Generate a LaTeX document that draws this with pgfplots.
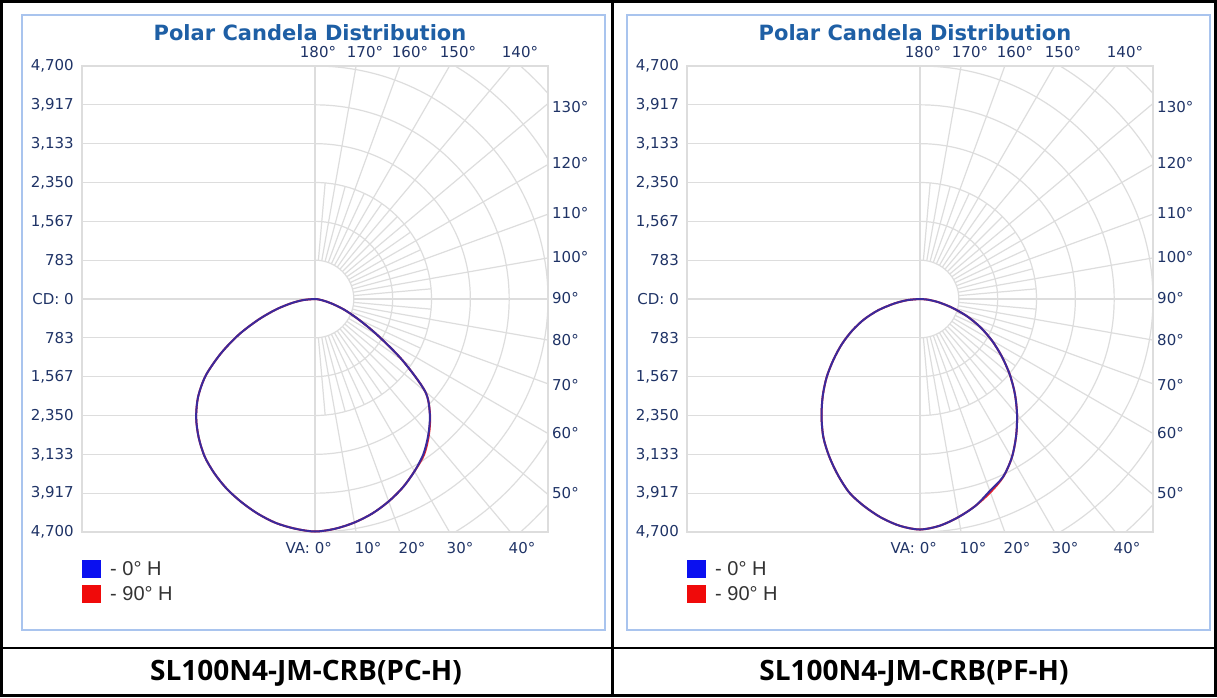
\documentclass[border=0pt]{standalone}
\usepackage{pgfplots}
\pgfplotsset{compat=1.18}
\usepackage{pgfplotstable}
\usepackage{fontspec}
\setmainfont{DejaVu Sans}
\newfontfamily\chartfont{DejaVu Sans}
\newfontfamily\legfont{Liberation Sans}
\newfontfamily\capfont{Open Sans}
\definecolor{gridc}{HTML}{DDDDDD}
\definecolor{navy}{HTML}{1F3366}
\definecolor{titleblue}{HTML}{1E5FA5}
\definecolor{framec}{HTML}{A9C4EE}
\definecolor{legtext}{HTML}{333333}
\definecolor{serblue}{HTML}{3A2A9C}
\definecolor{serred}{HTML}{E8202A}
\definecolor{sqblue}{HTML}{0A10F0}
\definecolor{sqred}{HTML}{F00A0A}

% va = vertical angle (negative = left half), cd = candela
\pgfplotstableread{
va cd
-90 0
-85 230
-80 480
-75 810
-70 1210
-65 1690
-60 2190
-55 2690
-50 3080
-45 3390
-40 3650
-35 3880
-30 4060
-25 4220
-20 4355
-15 4480
-10 4585
-5 4650
0 4690
5 4652
10 4578
15 4477
20 4345
25 4193
30 4013
35 3815
40 3559
45 3275
50 2900
55 2150
60 1450
65 960
70 620
75 340
80 150
85 45
90 0
}\pcZero
\pgfplotstableread{
va cd
-90 0
-85 230
-80 480
-75 810
-70 1210
-65 1690
-60 2190
-55 2690
-50 3080
-45 3390
-40 3650
-35 3880
-30 4060
-25 4220
-20 4355
-15 4480
-10 4585
-5 4650
0 4690
5 4652
10 4578
15 4477
20 4345
25 4193
30 4013
35 3835
40 3575
45 3280
50 2900
55 2150
60 1450
65 960
70 620
75 340
80 150
85 45
90 0
}\pcNinety
\pgfplotstableread{
va cd
-90 0
-85 250
-80 530
-75 870
-70 1200
-65 1510
-60 1820
-55 2130
-50 2460
-45 2776
-40 3090
-35 3400
-30 3665
-25 3918
-20 4160
-15 4331
-10 4481
-5 4595
0 4650
5 4590
10 4467
15 4320
20 4120
25 3960
30 3700
35 3379
40 3045
45 2707
50 2361
55 2010
60 1674
65 1340
70 1002
75 660
80 380
85 160
90 0
}\pfZero
\pgfplotstableread{
va cd
-90 0
-85 250
-80 530
-75 870
-70 1200
-65 1510
-60 1820
-55 2130
-50 2460
-45 2776
-40 3090
-35 3400
-30 3665
-25 3918
-20 4160
-15 4331
-10 4481
-5 4595
0 4650
5 4590
10 4467
15 4320
20 4150
25 3965
30 3700
35 3379
40 3045
45 2707
50 2361
55 2010
60 1674
65 1340
70 1002
75 660
80 380
85 160
90 0
}\pfNinety

\tikzset{lab/.style={font=\chartfont\fontsize{15}{18}\selectfont, text=navy, inner sep=0pt}}

\newcommand\chartpanel[4]{%
  \draw[framec, line width=1.5pt, fill=white] (#1-293,67) rectangle (#1+290,682);
  \node[font=\chartfont\bfseries\fontsize{21}{25}\selectfont, text=titleblue] at (#1-5,664) {Polar Candela Distribution};
  \begin{scope}[shift={(#1,398)}]
    \begin{scope}
      \clip (-233,-233) rectangle (233,233);
      \foreach \k in {-5,...,5} \draw[gridc, line width=1.2pt] (-233,\k*38.8333) -- (0,\k*38.8333);
      \draw[gridc, line width=1.2pt] (0,-233) -- (0,233);
      \foreach \k in {1,...,8} \draw[gridc, line width=1.2pt] (0,-\k*38.8333) arc[start angle=-90, end angle=90, radius=\k*38.8333];
      \foreach \t in {10,20,...,170} \draw[gridc, line width=1.2pt] ({\t-90}:38.8333) -- ({\t-90}:420);
      \foreach \t in {5,15,...,175} \draw[gridc, line width=1.2pt] ({\t-90}:38.8333) -- ({\t-90}:116.5);
    \end{scope}
    \draw[gridc, line width=1.2pt] (-233,-233) rectangle (233,233);
  \end{scope}
  \begin{axis}[at={(#1pt,398pt)}, anchor=center, scale only axis, width=466pt, height=466pt,
    xmin=-4700, xmax=4700, ymin=-4700, ymax=4700,
    axis line style={draw=none}, xtick=\empty, major tick length=0pt,
    ytick={-4700,-3916.667,-3133.333,-2350,-1566.667,-783.333,0,783.333,1566.667,2350,3133.333,3916.667,4700},
    yticklabels={{4,700},{3,917},{3,133},{2,350},{1,567},783,{CD: 0},783,{1,567},{2,350},{3,133},{3,917},{4,700}},
    yticklabel style={font=\chartfont\fontsize{15}{18}\selectfont, text=navy, inner sep=0pt, xshift=-8pt}]
    \addplot[serred, line width=2pt, smooth] table[x expr={\thisrow{cd}*sin(\thisrow{va})}, y expr={-\thisrow{cd}*cos(\thisrow{va})}] {#3};
    \addplot[serblue, line width=2pt, smooth] table[x expr={\thisrow{cd}*sin(\thisrow{va})}, y expr={-\thisrow{cd}*cos(\thisrow{va})}] {#2};
  \end{axis}
  \foreach \dx/\t in {3/180,50/170,95/160,143/150,205/140} \node[lab] at (#1+\dx,645) {\t°};
  \foreach \yy/\t in {107/130,163/120,213/110,257/100,298/90,340/80,385/70,433/60,493/50} \node[lab, anchor=west] at (#1+237,697-\yy) {\t°};
  \node[lab, anchor=east] at (#1+17,149) {VA: 0°};
  \foreach \dx/\t in {53/10,97/20,145/30,207/40} \node[lab] at (#1+\dx,149) {\t°};
  \fill[sqblue] (#1-233,119) rectangle (#1-214,137);
  \fill[sqred] (#1-233,94) rectangle (#1-214,112);
  \node[font=\legfont\fontsize{20}{24}\selectfont, text=legtext, anchor=west, inner sep=0pt] at (#1-205,128) {- 0° H};
  \node[font=\legfont\fontsize{20}{24}\selectfont, text=legtext, anchor=west, inner sep=0pt] at (#1-205,103) {- 90° H};
}

\begin{document}
\begin{tikzpicture}[x=1pt, y=1pt]
  \useasboundingbox (0,0) rectangle (1217,697);
  \fill[white] (0,0) rectangle (1217,697);
  \chartpanel{315}{\pcZero}{\pcNinety}{}
  \chartpanel{920}{\pfZero}{\pfNinety}{}
  \node[font=\capfont\bfseries\fontsize{28}{32}\selectfont] at (306,24) {SL100N4-JM-CRB(PC-H)};
  \node[font=\capfont\bfseries\fontsize{28}{32}\selectfont] at (914,24) {SL100N4-JM-CRB(PF-H)};
  \draw[line width=3pt] (1.5,1.5) rectangle (1215.5,695.5);
  \draw[line width=3pt] (612,0) -- (612,697);
  \draw[line width=2pt] (0,49) -- (1217,49);
\end{tikzpicture}
\end{document}
